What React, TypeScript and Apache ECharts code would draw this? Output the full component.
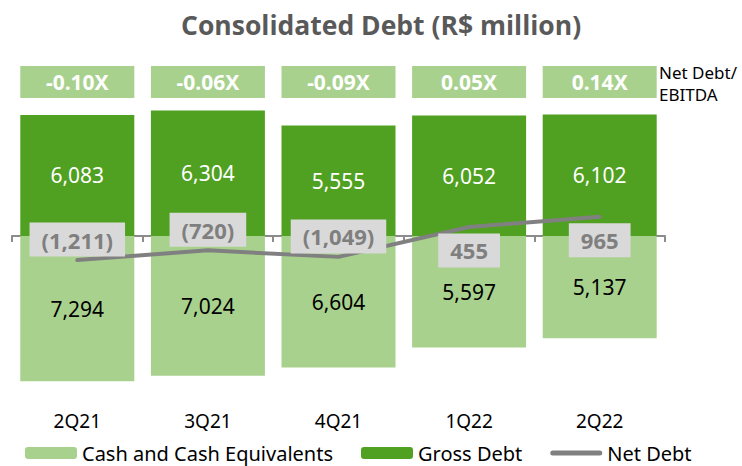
import React, { useEffect, useRef } from "react";
import * as echarts from "echarts";

const categories = ["2Q21", "3Q21", "4Q21", "1Q22", "2Q22"];
const grossDebt = [6083, 6304, 5555, 6052, 6102];
const cashEquivalents = [7294, 7024, 6604, 5597, 5137];
const netDebt = [-1211, -720, -1049, 455, 965];
const netDebtToEbitda = ["-0.10X", "-0.06X", "-0.09X", "0.05X", "0.14X"];

const FONT = "Noto Sans";
const fmt = (v: number) => Math.abs(v).toLocaleString("en-US");

export default function App() {
  const ref = useRef<HTMLDivElement>(null);
  useEffect(() => {
    if (!ref.current) return;
    const chart = echarts.init(ref.current, undefined, { renderer: "svg" });
    chart.setOption({
      animation: false,
      textStyle: { fontFamily: FONT },
      title: {
        text: "Consolidated Debt (R$ million)",
        left: 176,
        top: 6,
        textStyle: { fontFamily: "Open Sans", fontWeight: "bold", fontSize: 26.5, color: "#595959" },
      },
      legend: {
        data: [
          { name: "Cash and Cash Equivalents" },
          { name: "Gross Debt" },
          {
            name: "Net Debt",
            icon: "path://M2.5,0 H49.5 A2.5,2.5 0 0 1 49.5,5 H2.5 A2.5,2.5 0 0 1 2.5,0 Z",
            itemStyle: { color: "#808080" },
          },
        ],
        left: 20,
        top: 438,
        itemWidth: 52,
        itemHeight: 12,
        itemGap: 28,
        textStyle: { fontFamily: FONT, fontSize: 20, color: "#000" },
      },
      grid: [
        { left: 12, right: 77, top: 76.8, height: 318.4 },
        { left: 12, right: 77, top: 66, height: 32 },
      ],
      xAxis: [
        {
          type: "category",
          data: categories,
          gridIndex: 0,
          axisLine: { onZero: true, lineStyle: { color: "#8c8c8c", width: 2 } },
          axisTick: { show: true, length: 6, lineStyle: { color: "#8c8c8c", width: 2 } },
          axisLabel: { show: false },
        },
        {
          type: "category",
          data: categories,
          gridIndex: 0,
          position: "bottom",
          axisLine: { show: false, onZero: false },
          axisTick: { show: false },
          axisLabel: { show: true, margin: 16, fontFamily: FONT, fontSize: 19, color: "#000" },
        },
        {
          type: "category",
          data: categories,
          gridIndex: 1,
          show: false,
        },
      ],
      yAxis: [
        { type: "value", min: -8000, max: 8000, show: false, gridIndex: 0, splitLine: { show: false } },
        { type: "value", min: 0, max: 1, show: false, gridIndex: 1, splitLine: { show: false } },
      ],
      graphic: [
        {
          type: "text",
          left: 659,
          top: 61,
          style: {
            text: "Net Debt/\nEBITDA",
            fontFamily: FONT,
            fontSize: 17,
            lineHeight: 22,
            fill: "#000",
          },
        },
      ],
      series: [
        {
          name: "Gross Debt",
          type: "bar",
          stack: "debt",
          xAxisIndex: 0,
          yAxisIndex: 0,
          barWidth: 114,
          data: grossDebt,
          itemStyle: { color: "#50a021" },
          label: {
            show: true,
            position: "inside",
            formatter: (p: any) => fmt(p.value),
            color: "#fff",
            fontFamily: FONT,
            fontSize: 21,
          },
        },
        {
          name: "Cash and Cash Equivalents",
          type: "bar",
          stack: "debt",
          xAxisIndex: 0,
          yAxisIndex: 0,
          barWidth: 114,
          data: cashEquivalents.map((v) => -v),
          itemStyle: { color: "#a9d18e" },
          label: {
            show: true,
            position: "inside",
            formatter: (p: any) => fmt(p.value),
            color: "#000",
            fontFamily: FONT,
            fontSize: 21,
          },
        },
        {
          name: "Net Debt",
          type: "line",
          xAxisIndex: 0,
          yAxisIndex: 0,
          z: 5,
          data: netDebt.map((v) => ({
            value: v,
            label: { position: v < 0 ? "top" : "bottom", distance: v < 0 ? 3 : 6 },
          })),
          symbol: "circle",
          symbolSize: 1,
          showSymbol: true,
          itemStyle: { color: "#808080" },
          lineStyle: { color: "#808080", width: 4, cap: "round" },
          label: {
            show: true,
            formatter: (p: any) => (p.value < 0 ? `(${fmt(p.value)})` : fmt(p.value)),
            color: "#7f7f7f",
            backgroundColor: "#d9d9d9",
            padding: [6, 12, 6, 12],
            fontFamily: FONT,
            fontWeight: "bold",
            fontSize: 22,
            lineHeight: 22,
          },
        },
        {
          name: "Net Debt/EBITDA",
          type: "bar",
          xAxisIndex: 2,
          yAxisIndex: 1,
          barWidth: 114,
          data: netDebtToEbitda.map(() => 1),
          itemStyle: { color: "#a9d18e" },
          label: {
            show: true,
            position: "inside",
            formatter: (p: any) => netDebtToEbitda[p.dataIndex],
            color: "#fff",
            fontFamily: FONT,
            fontWeight: "bold",
            fontSize: 21,
          },
        },
      ],
    });
    return () => chart.dispose();
  }, []);
  return (
    <div
      ref={ref}
      style={{ position: "fixed", left: 0, top: 0, width: 742, height: 466, background: "#fff" }}
    />
  );
}
